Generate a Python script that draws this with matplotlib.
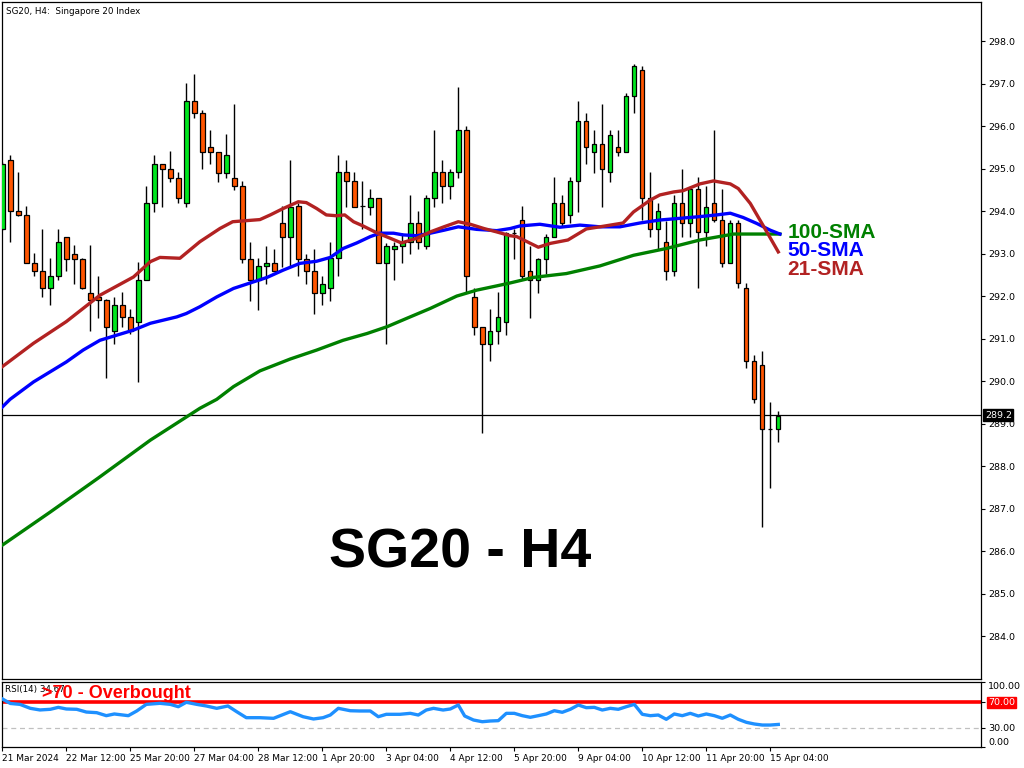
import numpy as np
import matplotlib.pyplot as plt
from matplotlib.transforms import blended_transform_factory

# H4 candles, index 0 = 21 Mar 2024 00:00
opens = [293.59, 295.20, 294.00, 293.90, 292.79, 292.60, 292.19, 292.48, 293.40, 293.00,
         292.88, 292.08, 291.99, 291.90, 291.19, 291.80, 291.50, 291.40, 292.39, 294.20,
         295.10, 295.00, 294.79, 294.20, 296.60, 296.30, 295.50, 295.40, 294.90, 294.79,
         294.60, 292.88, 292.39, 292.70, 292.79, 293.71, 293.39, 294.12, 292.88, 292.60,
         292.08, 292.19, 292.89, 294.91, 294.70, 294.12, 294.10, 294.30, 292.79, 293.10,
         293.19, 293.28, 293.71, 293.19, 294.30, 294.91, 294.60, 294.91, 295.90, 291.99,
         291.28, 290.88, 291.19, 291.40, 293.49, 293.80, 292.60, 292.39, 292.88, 293.40,
         294.20, 293.90, 294.70, 296.11, 295.40, 295.59, 294.91, 295.50, 295.40, 296.70,
         297.31, 294.30, 293.59, 293.28, 292.60, 294.20, 293.71, 294.51, 293.50, 294.20,
         293.80, 292.79, 293.71, 292.19, 290.48, 290.39, 288.88, 288.88]
highs = [295.15, 295.32, 294.92, 294.12, 293.01, 293.59, 292.89, 293.59, 293.40, 293.20,
         292.90, 293.20, 292.48, 291.92, 291.99, 292.09, 291.69, 292.80, 294.60, 295.31,
         295.11, 295.41, 294.91, 297.01, 297.22, 296.39, 295.90, 295.40, 295.81, 296.52,
         294.70, 293.28, 292.89, 293.19, 293.10, 294.12, 295.20, 294.18, 293.00, 293.10,
         292.48, 293.28, 295.31, 295.20, 294.91, 294.70, 294.51, 294.30, 293.25, 293.28,
         293.49, 294.39, 294.00, 294.39, 295.90, 295.20, 295.00, 296.91, 296.00, 292.19,
         291.28, 291.69, 292.09, 293.50, 293.59, 294.12, 293.19, 292.90, 293.47, 294.80,
         294.39, 294.80, 296.60, 296.30, 295.90, 296.51, 295.90, 295.90, 296.79, 297.45,
         297.41, 294.91, 294.20, 293.77, 294.39, 295.00, 294.60, 294.80, 294.60, 295.90,
         294.51, 293.80, 293.80, 292.30, 290.61, 290.70, 289.51, 289.30]
lows = [293.55, 293.28, 293.88, 292.78, 292.48, 291.98, 291.79, 292.37, 292.59, 292.29,
        292.17, 291.18, 291.49, 290.08, 290.88, 291.28, 291.10, 289.98, 292.39, 293.98,
        294.10, 294.69, 294.19, 294.10, 296.19, 295.00, 295.10, 294.69, 294.79, 294.49,
        292.78, 291.89, 291.68, 292.29, 292.58, 292.69, 292.69, 292.48, 292.29, 291.59,
        291.79, 291.89, 292.48, 294.10, 294.10, 293.59, 293.90, 292.78, 290.88, 292.37,
        292.79, 293.00, 293.10, 293.10, 294.10, 294.19, 294.29, 294.79, 292.08, 291.09,
        288.79, 290.48, 290.88, 291.09, 292.88, 292.41, 291.49, 292.08, 292.53, 293.40,
        293.63, 293.71, 293.98, 295.10, 294.90, 294.10, 294.69, 295.30, 295.40, 296.30,
        293.79, 293.39, 293.10, 292.37, 292.48, 293.39, 293.39, 292.19, 293.19, 293.75,
        292.69, 292.78, 292.19, 290.30, 289.49, 286.57, 287.49, 288.57]
closes = [295.10, 294.00, 293.90, 292.79, 292.60, 292.19, 292.48, 293.28, 292.88, 292.88,
          292.19, 291.90, 291.90, 291.28, 291.80, 291.50, 291.18, 292.39, 294.20, 295.10,
          295.00, 294.79, 294.30, 296.60, 296.30, 295.40, 295.40, 294.90, 295.31, 294.60,
          292.88, 292.39, 292.70, 292.79, 292.60, 293.39, 294.10, 292.88, 292.60, 292.08,
          292.29, 292.89, 294.91, 294.70, 294.10, 294.12, 294.30, 292.79, 293.19, 293.19,
          293.28, 293.71, 293.28, 294.30, 294.91, 294.60, 294.91, 295.90, 292.48, 291.28,
          290.88, 291.19, 291.50, 293.49, 293.49, 292.48, 292.39, 292.88, 293.40, 294.20,
          293.71, 294.70, 296.11, 295.50, 295.59, 295.00, 295.80, 295.40, 296.70, 297.41,
          294.30, 293.59, 294.00, 292.60, 294.20, 293.71, 294.51, 293.50, 294.10, 293.80,
          292.79, 293.71, 292.30, 290.48, 289.59, 288.88, 288.88, 289.18]

# moving averages (bar index, value)
sma21_x = [0, 3.9, 8, 12.2, 16.4, 18.5, 19.7, 22.2, 24.7, 27.2, 28.8, 32.2, 33.5, 35.1, 37, 38,
           39.3, 40.5, 41.8, 42.8, 43.9, 45.1, 46.8, 48.5, 49.9, 51.8, 53.5, 55.2, 57, 58.5,
           60.2, 61.8, 63.5, 64.3, 67, 68.5, 70.7, 73, 74.7, 77.6, 78.9, 81, 82.2, 83.9, 85.1,
           87.2, 88.9, 91, 92, 93.5, 95.2, 97]
sma21 = [290.34, 290.89, 291.40, 292.02, 292.45, 292.81, 292.91, 292.89, 293.28, 293.59, 293.75,
         293.80, 293.91, 294.06, 294.22, 294.20, 294.06, 293.91, 293.89, 293.91, 293.75, 293.65,
         293.49, 293.36, 293.25, 293.36, 293.51, 293.63, 293.75, 293.69, 293.59, 293.51, 293.42,
         293.40, 293.15, 293.24, 293.32, 293.58, 293.63, 293.72, 293.98, 294.26, 294.38, 294.45,
         294.48, 294.64, 294.71, 294.64, 294.53, 294.18, 293.63, 293.04]
sma50_x = [0, 0.96, 3.9, 8, 10.1, 12.2, 14.3, 16.4, 18.5, 21.8, 23, 24.7, 26.8, 28.9, 31, 33.1,
           35.1, 37.2, 39.3, 41, 42.6, 44.3, 46, 47.2, 48.9, 50.1, 51.8, 53.5, 55.2, 57, 59.3,
           61.8, 63.5, 64.7, 67.2, 69.7, 72.2, 74.7, 77.2, 79.7, 82.2, 84.7, 87.2, 89.3, 91,
           92.6, 94.3, 96, 97.2]
sma50 = [289.39, 289.57, 289.98, 290.45, 290.73, 290.96, 291.08, 291.20, 291.36, 291.51, 291.59,
         291.75, 291.98, 292.18, 292.31, 292.44, 292.61, 292.77, 292.82, 292.91, 293.12, 293.25,
         293.40, 293.48, 293.48, 293.44, 293.42, 293.48, 293.55, 293.63, 293.57, 293.54, 293.59,
         293.65, 293.69, 293.62, 293.67, 293.63, 293.63, 293.72, 293.79, 293.83, 293.87, 293.91,
         293.95, 293.85, 293.71, 293.55, 293.46]
sma100_x = [0, 6, 12, 18.5, 24.7, 26.8, 28.9, 32.2, 36, 39.3, 42.6, 45.6, 48.1, 50.6, 53.5,
            56.8, 59.3, 61.8, 63.5, 66.4, 70.5, 74.7, 78.9, 83, 87.2, 91.4, 97.2]
sma100 = [286.14, 286.92, 287.72, 288.61, 289.36, 289.57, 289.87, 290.24, 290.52, 290.73,
          290.96, 291.12, 291.28, 291.48, 291.71, 292.00, 292.14, 292.24, 292.31, 292.44,
          292.53, 292.71, 292.96, 293.12, 293.32, 293.46, 293.46]

rsi_x = [0, 1, 2.2, 3.5, 4.7, 6, 7, 8, 9.3, 10.5, 11.8, 13, 14, 15.75, 16.8, 18, 19.7, 21, 22,
         23, 24.3, 25.5, 26.8, 28.2, 29.3, 30.5, 32.2, 33.9, 36, 37.6, 38.9, 40.1, 41, 42, 43.5,
         44.7, 46, 47, 48, 49.7, 51, 52, 53, 53.9, 55.1, 56, 57, 57.8, 58.9, 60, 61, 62, 63, 64,
         65, 66, 67, 68, 69, 70, 71, 72, 73, 74, 75, 76, 77, 78, 79, 80, 81, 82, 83, 84, 85, 86,
         87, 88, 89, 90, 91, 92, 93, 94, 95, 96, 97]
rsi = [74, 67, 65.6, 59.5, 57, 58, 61, 58.5, 58, 53.8, 52.8, 48.2, 50.8, 48.2, 55.4, 65.6, 67.2,
       65.6, 62, 68.8, 65.6, 63.1, 59.5, 63.1, 54.3, 45.1, 45.1, 44.1, 54.3, 46.6, 43.1, 45.1,
       49.2, 59.5, 55.8, 55.4, 55.4, 46.6, 50.3, 50.3, 51.8, 49.2, 56.9, 59.5, 56.9, 58.5, 64.6,
       47.7, 41.5, 38.9, 40, 40.5, 51.8, 51.8, 48.2, 45.7, 48.2, 50.8, 55.8, 53.4, 58, 64.6, 60.5,
       61, 56.9, 59.5, 58, 62, 65.6, 50.3, 48.2, 49.2, 42.6, 50.8, 48.2, 51.8, 47.7, 50.8, 48.2,
       44.2, 49.2, 42.6, 38, 35.4, 33.8, 33.8, 34.7]

tick_labels = ['21 Mar 2024', '22 Mar 12:00', '25 Mar 20:00', '27 Mar 04:00', '28 Mar 12:00',
               '1 Apr 20:00', '3 Apr 04:00', '4 Apr 12:00', '5 Apr 20:00', '9 Apr 04:00',
               '10 Apr 12:00', '11 Apr 20:00', '15 Apr 04:00']
last_price = 289.2

UP = '#00E61E'
DOWN = '#FF5500'

fig = plt.figure(figsize=(10.24, 7.68), dpi=100)
W, H = 1024, 768
ax = fig.add_axes([2 / W, 1 - 679 / H, 979 / W, 677 / H])
ax2 = fig.add_axes([2 / W, 1 - 747 / H, 979 / W, 65 / H], sharex=ax)

o = np.array(opens)
c = np.array(closes)
idx = np.arange(len(o))
up = c >= o

# wicks then bodies
ax.vlines(idx, lows, highs, color='black', lw=1, zorder=3)
body_lo = np.minimum(o, c)
body_h = np.abs(c - o)
ax.bar(idx[up], body_h[up], bottom=body_lo[up], width=0.55, color=UP,
       edgecolor='black', lw=0.9, zorder=4)
ax.bar(idx[~up], body_h[~up], bottom=body_lo[~up], width=0.55, color=DOWN,
       edgecolor='black', lw=0.9, zorder=4)

ax.plot(sma100_x, sma100, color='#008000', lw=2.4, zorder=5)
ax.plot(sma50_x, sma50, color='#0000FF', lw=2.4, zorder=5)
ax.plot(sma21_x, sma21, color='#B22222', lw=2.4, zorder=5)

ax.axhline(last_price, color='black', lw=0.9, zorder=2)

ax.set_xlim(-0.04, 122.34)
ax.set_ylim(282.99, 298.92)
ax.yaxis.tick_right()
ax.set_yticks(np.arange(284, 299))
ax.set_yticklabels([f'{v:.1f}' for v in np.arange(284, 299)])
ax.tick_params(axis='y', direction='out', length=3, width=0.8, labelsize=6.8, pad=2)
ax.tick_params(axis='x', bottom=False, labelbottom=False)
for s in ax.spines.values():
    s.set_linewidth(0.9)

tr = blended_transform_factory(ax.transAxes, ax.transData)
ax.text(1.004, last_price, f'{last_price:.1f}', transform=tr, ha='left', va='center',
        fontsize=6.8, color='white',
        bbox=dict(boxstyle='square,pad=0.15', fc='black', ec='black'))

ax.text(0.004, 0.992, 'SG20, H4:  Singapore 20 Index', transform=ax.transAxes,
        ha='left', va='top', fontsize=6.3)
ax.text(0.468, 0.186, 'SG20 - H4', transform=ax.transAxes, ha='center', va='center',
        fontsize=40, fontweight='bold', family='Liberation Sans')
ax.text(0.802, 0.660, '100-SMA', transform=ax.transAxes, ha='left', va='center',
        fontsize=15, fontweight='bold', color='#008000', family='Liberation Sans')
ax.text(0.802, 0.633, '50-SMA', transform=ax.transAxes, ha='left', va='center',
        fontsize=15, fontweight='bold', color='#0000FF', family='Liberation Sans')
ax.text(0.802, 0.605, '21-SMA', transform=ax.transAxes, ha='left', va='center',
        fontsize=15, fontweight='bold', color='#B22222', family='Liberation Sans')

# RSI panel
ax2.plot(rsi_x, rsi, color='#1E90FF', lw=2.4, zorder=3)
ax2.axhline(70, color='red', lw=2.6, zorder=2)
ax2.axhline(30, color='#C0C0C0', lw=0.9, ls=(0, (4, 3)), zorder=1)
ax2.set_ylim(0, 100)
ax2.yaxis.tick_right()
ax2.set_yticks([0, 30, 70, 100])
ax2.set_yticklabels(['0.00', '30.00', '70.00', '100.00'])
ax2.tick_params(axis='y', direction='out', length=3, width=0.8, labelsize=6.8, pad=2)
ylabs = ax2.get_yticklabels()
ylabs[0].set_va('bottom')
ylabs[3].set_va('top')
ylabs[2].set_color('white')
ylabs[2].set_bbox(dict(boxstyle='square,pad=0.15', fc='red', ec='red'))
for s in ax2.spines.values():
    s.set_linewidth(0.9)

ax2.set_xticks(np.arange(0, 97, 8))
ax2.set_xticklabels(tick_labels, ha='left')
ax2.tick_params(axis='x', direction='out', length=3, width=0.8, labelsize=6.5, pad=2)

# the reference draws the overbought note over the RSI caption
ax2.text(0.003, 0.88, 'RSI(14) 34.67', transform=ax2.transAxes, ha='left', va='center',
         fontsize=6.3)
ax2.text(0.041, 0.82, '>70 - Overbought', transform=ax2.transAxes, ha='left', va='center',
         fontsize=13, fontweight='bold', color='red', family='Liberation Sans')

fig.savefig('out.png', dpi=100)
